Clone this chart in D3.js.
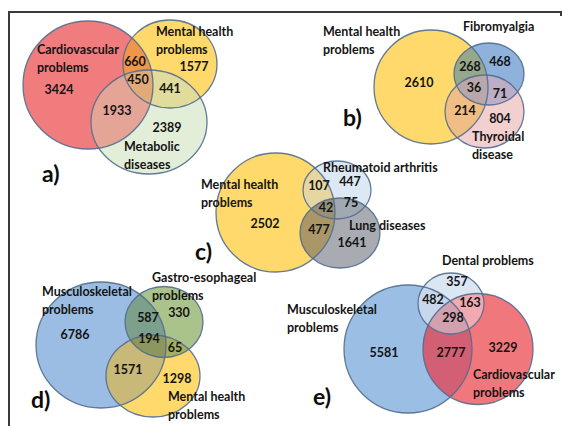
<!DOCTYPE html>
<html>
<head>
<meta charset="utf-8">
<script src="https://cdn.jsdelivr.net/npm/d3@7"></script>
<style>
  body { margin: 0; background: #fff; }
  svg text { font-family: Lato, "Open Sans", sans-serif; fill: #141414; }
  .name, .num { font-size: 12.5px; font-weight: 700; }
  .tag { font-size: 23px; font-weight: 700; fill: #0c0c0c; }
</style>
</head>
<body>
<div id="chart"></div>
<script>
// region order everywhere: only A, only B, only C, A&B, A&C, B&C, A&B&C
const panelTags = ["a)", "b)", "c)", "d)", "e)"];

const setsA = [["Cardiovascular", "problems"], ["Mental health", "problems"], ["Metabolic", "diseases"]];
const valuesA = [3424, 1577, 2389, 660, 1933, 441, 450];

const setsB = [["Mental health", "problems"], ["Fibromyalgia"], ["Thyroidal", "disease"]];
const valuesB = [2610, 468, 804, 268, 214, 71, 36];

const setsC = [["Mental health", "problems"], ["Rheumatoid  arthritis"], ["Lung diseases"]];
const valuesC = [2502, 447, 1641, 107, 477, 75, 42];

const setsD = [["Musculoskeletal", "problems"], ["Gastro-esophageal", "problems"], ["Mental health", "problems"]];
const valuesD = [6786, 330, 1298, 587, 1571, 65, 194];

const setsE = [["Musculoskeletal", "problems"], ["Cardiovascular", "problems"], ["Dental problems"]];
const valuesE = [5581, 3229, 357, 2777, 482, 163, 298];

// hand placed layout of each diagram (ellipses, label spots, region colours)
const layout = [
  { sets: setsA, values: valuesA, tag: [42, 174],
    circles: [[88, 85, 65, 64], [170, 64, 47, 44], [149, 122, 58, 52]],
    names: [[37, 50], [156, 32], [124, 147]],
    spots: [[59, 90], [194, 67], [167, 128], [135, 62], [117, 111], [170, 89], [138, 80]],
    colors: ["#f17c7e", "#ffd96b", "#e2eed8", "#f0964a", "#e4a496", "#e1dc9b", "#e2aa78"] },
  { sets: setsB, values: valuesB, tag: [343, 118],
    circles: [[431, 87, 57, 57], [489, 74, 35, 31], [484.5, 111.5, 39.5, 36.5]],
    names: [[323, 32], [463, 27], [472, 137]],
    spots: [[419, 83], [500, 62], [500, 119], [470, 67], [465, 111], [500, 94], [474, 88]],
    colors: ["#ffd96b", "#8eb2dc", "#f2d0d0", "#96a88c", "#f0be84", "#bcaec6", "#b8a8aa"] },
  { sets: setsC, values: valuesC, tag: [195, 252],
    circles: [[275.5, 212.5, 59.5, 59.5], [337, 190, 34, 29], [340, 233, 40, 35]],
    names: [[201, 185], [323, 168], [349, 226]],
    spots: [[265, 224], [350, 182], [352, 243], [319, 186], [319, 230], [351, 203], [326, 208]],
    colors: ["#ffd96b", "#dce8f4", "#a8acb2", "#e6d7a2", "#aa9666", "#a0a8b2", "#969178"] },
  { sets: setsD, values: valuesD, tag: [31, 400],
    circles: [[101, 345, 65, 63], [164, 322, 39, 35.5], [153, 376, 47, 41]],
    names: [[42, 292], [152, 278], [168, 397]],
    spots: [[75, 335], [179, 313], [177, 379], [148, 318], [128, 370], [175, 348], [149, 339]],
    colors: ["#9bbde3", "#aac38c", "#ffd96b", "#7da08c", "#c8b978", "#a6af60", "#8c965f"] },
  { sets: setsE, values: valuesE, tag: [313, 397],
    circles: [[408, 349, 64, 64], [478, 349, 55, 55.5], [451, 303.5, 33, 30.5]],
    names: [[287, 310], [473, 375], [442, 261]],
    spots: [[384, 353], [503, 348], [457, 282], [451, 353], [433, 300], [470, 303], [453, 318]],
    colors: ["#9bbfe4", "#f0787d", "#dae6f2", "#d25f73", "#c8d7eb", "#f0aab0", "#d2a0af"] }
];

const width = 562, height = 426;
const svg = d3.select("#chart").append("svg")
  .attr("width", width).attr("height", height);

// frame of the figure
svg.append("path")
  .attr("d", d3.line()([[9, height], [9, 12], [561, 12], [561, 16]]))
  .attr("fill", "none").attr("stroke", "#3a3a3a").attr("stroke-width", 2);

const defs = svg.append("defs");
const pairs = [[0, 1], [0, 2], [1, 2]];

layout.forEach(function (p, pi) {
  const g = svg.append("g").attr("class", "venn");
  const id = (k) => "clip-" + pi + "-" + k;

  p.circles.forEach(function (c, k) {
    defs.append("clipPath").attr("id", id(k))
      .append("ellipse").attr("cx", c[0]).attr("cy", c[1]).attr("rx", c[2]).attr("ry", c[3]);
  });

  function ellipse(sel, c) {
    return sel.append("ellipse")
      .attr("cx", c[0]).attr("cy", c[1]).attr("rx", c[2]).attr("ry", c[3]);
  }

  // single sets
  p.circles.forEach(function (c, k) {
    ellipse(g, c).attr("fill", p.colors[k]);
  });
  // pairwise overlaps
  pairs.forEach(function (pr, k) {
    const inner = g.append("g").attr("clip-path", "url(#" + id(pr[0]) + ")");
    ellipse(inner, p.circles[pr[1]]).attr("fill", p.colors[3 + k]);
  });
  // triple overlap
  const t = g.append("g").attr("clip-path", "url(#" + id(0) + ")")
    .append("g").attr("clip-path", "url(#" + id(1) + ")");
  ellipse(t, p.circles[2]).attr("fill", p.colors[6]);

  // outlines
  g.selectAll("ellipse.edge")
    .data(p.circles)
    .enter()
    .append("ellipse")
    .attr("class", "edge")
    .attr("cx", (d) => d[0]).attr("cy", (d) => d[1])
    .attr("rx", (d) => d[2]).attr("ry", (d) => d[3])
    .attr("fill", "none")
    .attr("stroke", "#526d8e")
    .attr("stroke-opacity", 0.9)
    .attr("stroke-width", 1.3);

  // region counts
  g.selectAll("text.num")
    .data(p.values)
    .enter()
    .append("text")
    .attr("class", "num")
    .attr("x", (d, i) => p.spots[i][0])
    .attr("y", (d, i) => p.spots[i][1])
    .attr("text-anchor", "middle")
    .attr("dy", "0.35em")
    .text((d) => d);

  // set names
  p.sets.forEach(function (lines, k) {
    const txt = g.append("text").attr("class", "name")
      .attr("x", p.names[k][0]).attr("y", p.names[k][1]);
    lines.forEach(function (line, li) {
      txt.append("tspan")
        .attr("x", p.names[k][0])
        .attr("dy", li === 0 ? "0.35em" : "17.5px")
        .text(line);
    });
  });

  g.append("text").attr("class", "tag")
    .attr("x", p.tag[0]).attr("y", p.tag[1]).attr("dy", "0.35em")
    .text(panelTags[pi]);
});
</script>
</body>
</html>
